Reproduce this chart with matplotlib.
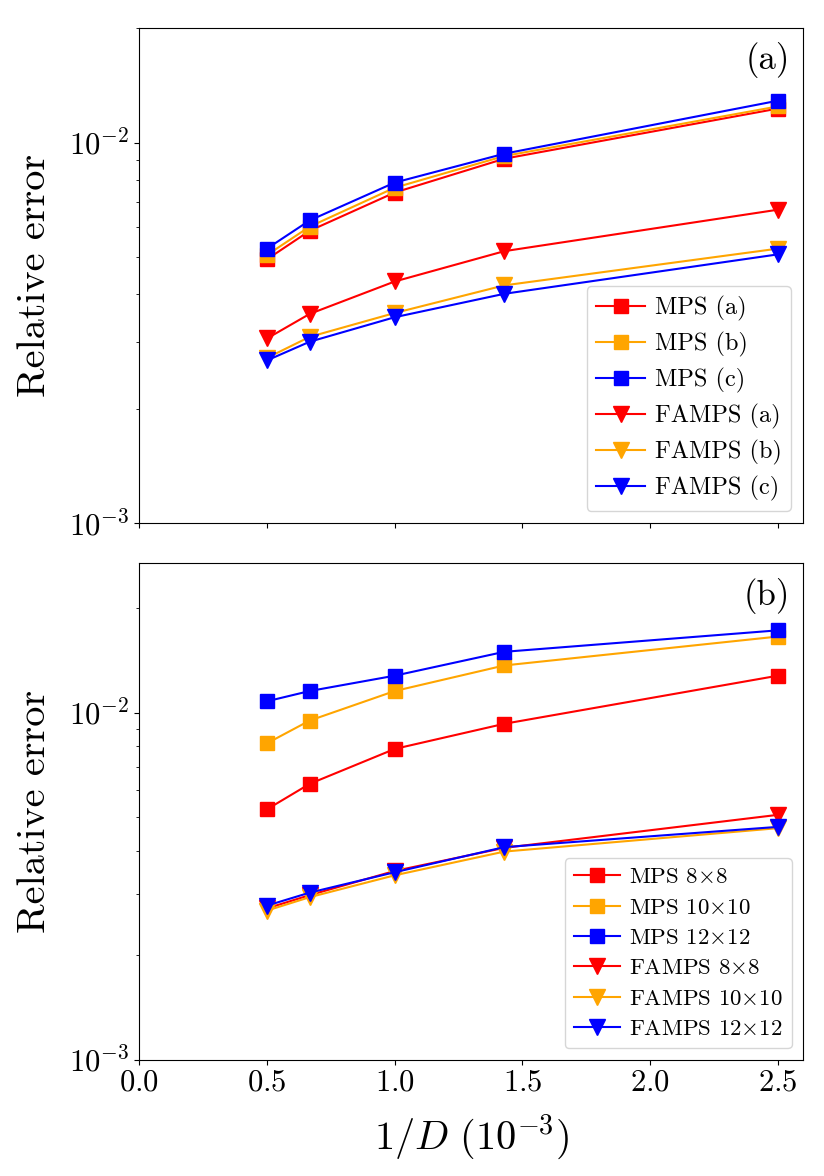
import matplotlib
matplotlib.use('Agg')
import matplotlib.pyplot as plt

plt.rcParams['font.family'] = 'serif'
plt.rcParams['font.serif'] = ['cmr10']
plt.rcParams['mathtext.fontset'] = 'cm'
plt.rcParams['axes.formatter.use_mathtext'] = True
plt.rcParams['axes.unicode_minus'] = False

# 1/D in units of 1e-3 (D = 2000, 1500, 1000, 700, 400)
inv_D = [0.5, 0.667, 1.0, 1.429, 2.5]

# panel (a)
mps_a = [4.94e-3, 5.87e-3, 7.40e-3, 9.08e-3, 1.23e-2]
mps_b = [5.07e-3, 6.02e-3, 7.62e-3, 9.23e-3, 1.246e-2]
mps_c = [5.27e-3, 6.25e-3, 7.86e-3, 9.36e-3, 1.29e-2]
famps_a = [3.06e-3, 3.55e-3, 4.32e-3, 5.19e-3, 6.67e-3]
famps_b = [2.72e-3, 3.09e-3, 3.57e-3, 4.22e-3, 5.27e-3]
famps_c = [2.68e-3, 3.00e-3, 3.48e-3, 4.01e-3, 5.09e-3]

# panel (b)
mps_8 = [5.27e-3, 6.24e-3, 7.87e-3, 9.30e-3, 1.28e-2]
mps_10 = [8.17e-3, 9.50e-3, 1.156e-2, 1.37e-2, 1.66e-2]
mps_12 = [1.08e-2, 1.156e-2, 1.28e-2, 1.50e-2, 1.73e-2]
famps_8 = [2.73e-3, 2.98e-3, 3.50e-3, 4.08e-3, 5.08e-3]
famps_10 = [2.69e-3, 2.94e-3, 3.40e-3, 3.98e-3, 4.65e-3]
famps_12 = [2.78e-3, 3.03e-3, 3.47e-3, 4.10e-3, 4.69e-3]

labels_a = ['MPS (a)', 'MPS (b)', 'MPS (c)', 'FAMPS (a)', 'FAMPS (b)', 'FAMPS (c)']
labels_b = [r'MPS 8${\times}$8', r'MPS 10${\times}$10', r'MPS 12${\times}$12',
            r'FAMPS 8${\times}$8', r'FAMPS 10${\times}$10', r'FAMPS 12${\times}$12']
colors = ['red', 'orange', 'blue']

fig = plt.figure(figsize=(8.24, 11.76), dpi=100)
ax1 = fig.add_axes([0.169, 0.555, 0.806, 0.421])
ax2 = fig.add_axes([0.169, 0.099, 0.806, 0.422], sharex=ax1)


def draw(ax, mps, famps, labels, ymax, tag, legsize, legspace):
    for i in range(3):
        ax.plot(inv_D, mps[i], color=colors[i], marker='s', markersize=9.5,
                linewidth=1.5, label=labels[i])
    for i in range(3):
        ax.plot(inv_D, famps[i], color=colors[i], marker='v', markersize=12,
                linewidth=1.5, label=labels[3 + i])
    ax.set_yscale('log')
    ax.set_ylim(1e-3, ymax)
    ax.set_xlim(0, 2.6)
    ax.set_ylabel('Relative error', fontsize=29, labelpad=12)
    ax.tick_params(labelsize=22)
    ax.text(0.98, 0.935, tag, transform=ax.transAxes, ha='right', va='center',
            fontsize=25)
    ax.legend(loc='lower right', fontsize=legsize, handlelength=2.0,
              labelspacing=legspace, borderpad=0.4, handletextpad=0.4)


draw(ax1, [mps_a, mps_b, mps_c], [famps_a, famps_b, famps_c], labels_a,
     2e-2, '(a)', 17.5, 0.45)
draw(ax2, [mps_8, mps_10, mps_12], [famps_8, famps_10, famps_12], labels_b,
     2.7e-2, '(b)', 16.5, 0.45)

ax1.tick_params(labelbottom=False)
ax2.set_xticks([0.0, 0.5, 1.0, 1.5, 2.0, 2.5])
ax2.set_xlabel(r'$1/D\ (10^{-3})$', fontsize=29, labelpad=12)

fig.savefig('out.png', dpi=100)
